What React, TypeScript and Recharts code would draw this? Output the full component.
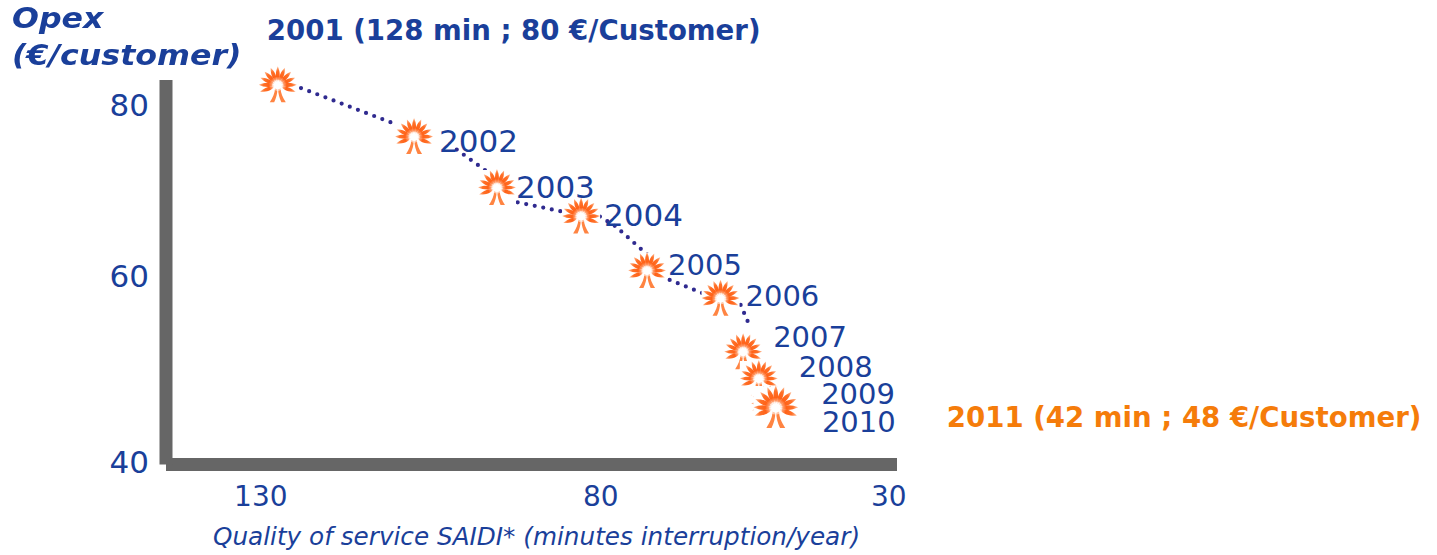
import { ComposedChart, Line, Scatter, XAxis, YAxis } from "recharts";

const years = [2001, 2002, 2003, 2004, 2005, 2006, 2007, 2008, 2009, 2010, 2011];
const minutes = [127.3, 105.6, 92.4, 79.0, 68.5, 56.8, 53.2, 50.7, 48.9, 48.3, 48.0];
const opex = [82.2, 76.4, 70.7, 67.5, 61.4, 58.3, 52.3, 49.3, 46.5, 46.3, 46.05];
const pointLabels = [
  "2001 (128 min ; 80 €/Customer)",
  "2002",
  "2003",
  "2004",
  "2005",
  "2006",
  "2007",
  "2008",
  "2009",
  "2010",
  "2011 (42 min ; 48 €/Customer)",
];
const xTicks = [130, 80, 30];
const yTicks = [80, 60, 40];

// dotted connectors were hand drawn in the original, they don't run centre to centre
const connector1 = [{ x: 123.6, y: 81.9 }, { x: 109.1, y: 78.0 }];
const connector2 = [{ x: 98.8, y: 75.0 }, { x: 94.3, y: 72.7 }];
const connector3 = [{ x: 89.1, y: 69.1 }, { x: 81.6, y: 68.0 }];
const connector4 = [{ x: 76.0, y: 67.5 }, { x: 73.5, y: 66.4 }, { x: 68.4, y: 63.2 }];
const connector5 = [{ x: 64.9, y: 60.4 }, { x: 59.6, y: 58.9 }];
const connector6 = [{ x: 53.6, y: 57.6 }, { x: 52.0, y: 55.0 }];
const connectors = [connector1, connector2, connector3, connector4, connector5, connector6];

const points = years.map((year, i) => ({
  year,
  x: minutes[i],
  y: opex[i],
  label: pointLabels[i],
}));

const BLUE = "#1a3f9a";
const ORANGE = "#f57c0a";
const FONT = "'DejaVu Sans', sans-serif";

// label placement relative to its mark: dx, dy, font size
const labelStyle: Record<number, [number, number, number]> = {
  2001: [-11, -45, 27.6],
  2002: [25, 15, 31],
  2003: [19, 10, 31],
  2004: [23, 9, 31],
  2005: [21, 4, 29],
  2006: [25, 7, 29],
  2007: [30, -5, 29],
  2008: [40, -2, 29],
  2009: [51, 0, 29],
  2010: [48, 26, 29],
  2011: [171, 19, 27.6],
};

const xTickNudge: Record<number, number> = { 130: 0, 80: 26, 30: 0 };
const yTickNudge: Record<number, number> = { 80: 0, 60: -7.5, 40: 0 };

const petalAngles = [-110, -88, -66, -44, -22, 0, 22, 44, 66, 88, 110];

const Flower = (props: any) => {
  const { cx, cy, payload } = props;
  const s = payload.year === 2011 ? 1.18 : 1;
  return (
    <g transform={`translate(${cx},${cy}) scale(${s})`}>
      <rect x={-19} y={-18} width={38} height={35} fill="#fff" />
      <g style={{ filter: "blur(0.45px)" }}>
        {petalAngles.map((a) => (
          <path
            key={a}
            transform={`rotate(${a})`}
            d="M0,-3.5 C-3,-8 -2.2,-14 0,-19 C2.2,-14 3,-8 0,-3.5 Z"
            fill="url(#petal)"
          />
        ))}
        <path d="M-2.8,3 C-2.8,8 -5,12 -8,17 L-3.6,17 C-1.6,13 -0.4,8 -0.4,4 Z" fill="#ff8442" />
        <path d="M2.8,3 C2.8,8 5,12 8,17 L3.6,17 C1.6,13 0.4,8 0.4,4 Z" fill="#ff8442" />
        <circle r={5.6} fill="#fff" opacity={0.55} />
        <circle r={3.6} fill="#fff" />
      </g>
    </g>
  );
};

const PointLabel = (props: any) => {
  const { cx, cy, payload } = props;
  const [dx, dy, size] = labelStyle[payload.year];
  const bold = payload.year === 2001 || payload.year === 2011;
  return (
    <text
      x={cx + dx}
      y={cy + dy}
      fontFamily={FONT}
      fontSize={size}
      fontWeight={bold ? 700 : 400}
      fill={payload.year === 2011 ? ORANGE : BLUE}
    >
      {payload.label}
    </text>
  );
};

const XTick = ({ x, y, payload }: any) => (
  <text
    x={x + xTickNudge[payload.value]}
    y={y + 33}
    textAnchor="middle"
    fontFamily={FONT}
    fontSize={28}
    fill={BLUE}
  >
    {payload.value}
  </text>
);

const YTick = ({ y, payload }: any) => (
  <text
    x={149}
    y={y + yTickNudge[payload.value] + 11}
    textAnchor="end"
    fontFamily={FONT}
    fontSize={31}
    fill={BLUE}
  >
    {payload.value}
  </text>
);

export default function App() {
  return (
    <div style={{ position: "absolute", left: 0, top: 0, width: 1437, height: 555, background: "#fff", overflow: "hidden" }}>
      <ComposedChart
        width={1437}
        height={555}
        margin={{ top: 80, right: 540, bottom: 30.5, left: 66 }}
      >
        <defs>
          <linearGradient id="petal" x1="0" y1="1" x2="0" y2="0">
            <stop offset="0%" stopColor="#ffd2b8" />
            <stop offset="35%" stopColor="#ff6218" />
            <stop offset="70%" stopColor="#ff7028" />
            <stop offset="100%" stopColor="#ffc09c" />
          </linearGradient>
        </defs>
        <XAxis
          type="number"
          dataKey="x"
          reversed
          domain={[28.7, 145.1]}
          ticks={xTicks}
          height={60}
          tick={<XTick />}
          tickLine={false}
          axisLine={{ stroke: "#666", strokeWidth: 13 }}
        />
        <YAxis
          type="number"
          dataKey="y"
          domain={[39.72, 82.8]}
          ticks={yTicks}
          width={100}
          tick={<YTick />}
          tickLine={false}
          axisLine={{ stroke: "#666", strokeWidth: 13 }}
        />
        {connectors.map((segment, i) => (
          <Line
            key={i}
            data={segment}
            dataKey="y"
            stroke="#2f2a8f"
            strokeWidth={4.2}
            strokeLinecap="round"
            strokeDasharray="0 8.7"
            dot={false}
            activeDot={false}
            legendType="none"
            isAnimationActive={false}
          />
        ))}
        <Scatter data={points} shape={Flower} isAnimationActive={false} />
        <Scatter data={points} shape={PointLabel} isAnimationActive={false} />
      </ComposedChart>
      <div
        style={{
          position: "absolute",
          left: 12,
          top: 0,
          fontFamily: FONT,
          fontSize: 28,
          fontWeight: 700,
          fontStyle: "italic",
          lineHeight: "37px",
          color: BLUE,
          whiteSpace: "nowrap",
          transform: "scaleX(1.13)",
          transformOrigin: "left top",
        }}
      >
        Opex
        <br />
        (€/customer)
      </div>
      <div
        style={{
          position: "absolute",
          left: 213,
          top: 522,
          fontFamily: FONT,
          fontSize: 24.7,
          fontStyle: "italic",
          color: BLUE,
          whiteSpace: "nowrap",
        }}
      >
        Quality of service SAIDI* (minutes interruption/year)
      </div>
    </div>
  );
}
